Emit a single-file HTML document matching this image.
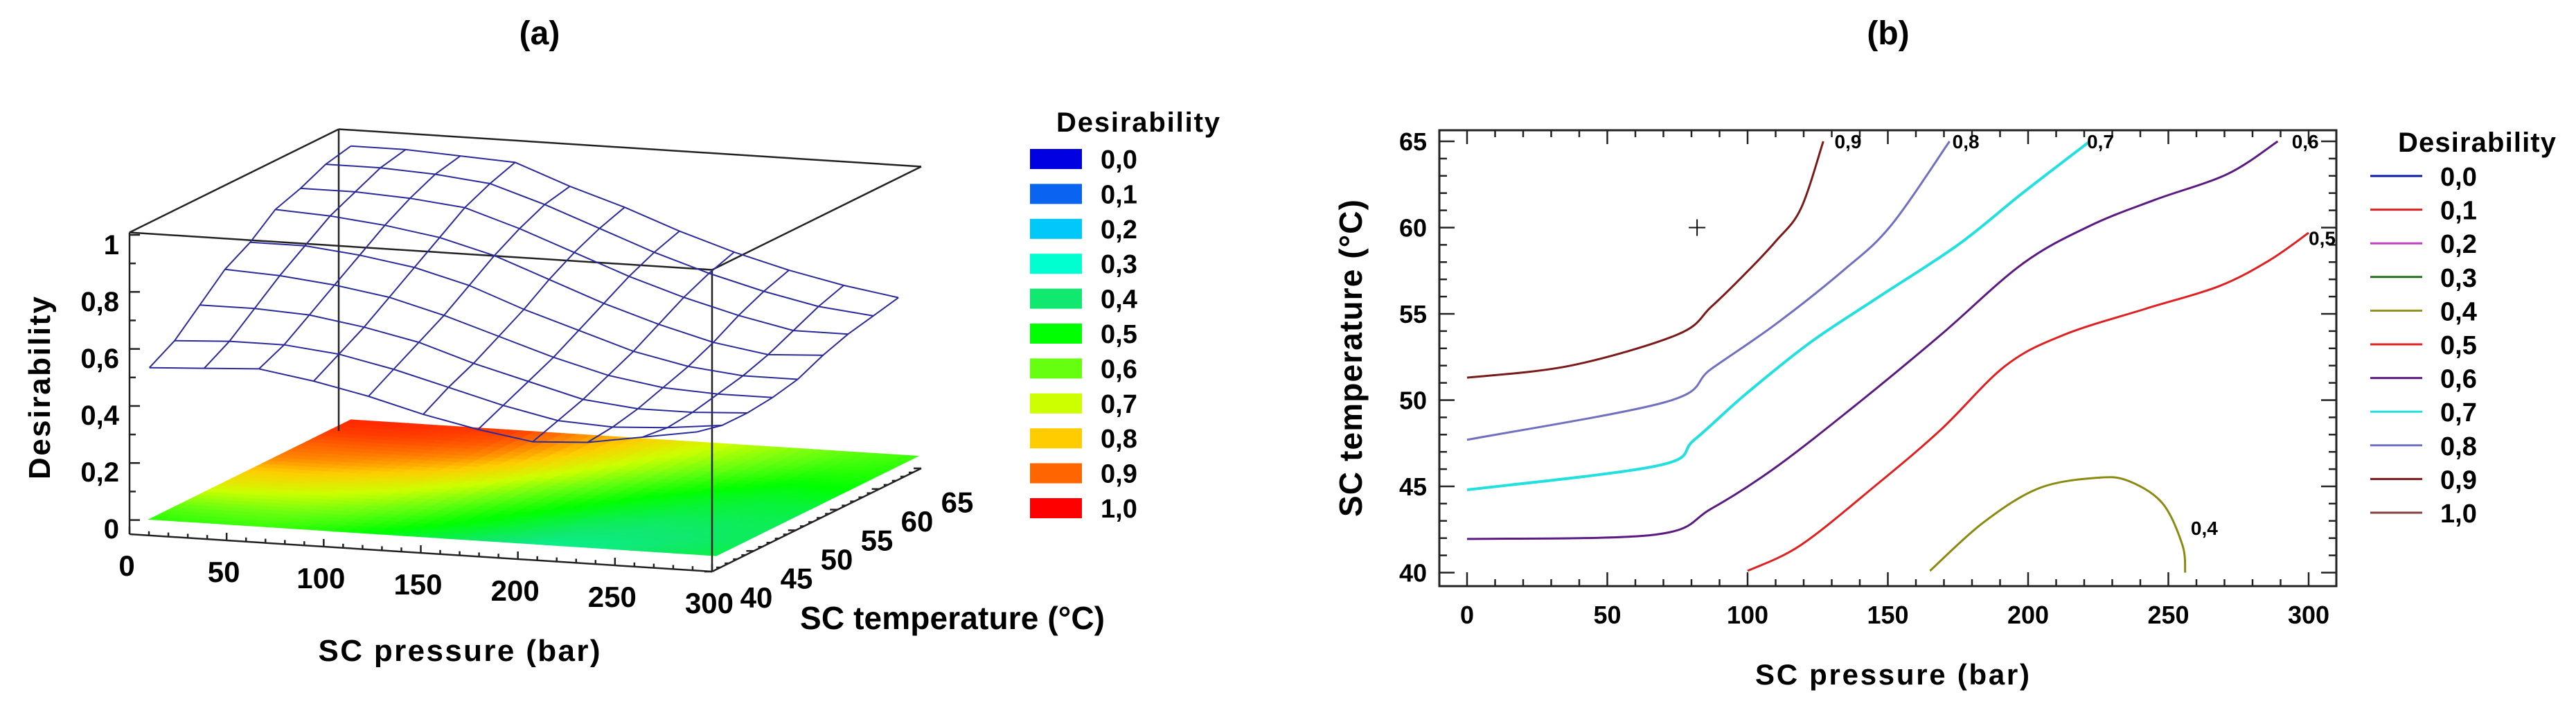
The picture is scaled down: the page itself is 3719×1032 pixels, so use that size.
<!DOCTYPE html>
<html><head><meta charset="utf-8"><style>
html,body{margin:0;padding:0;background:#fff;}
svg{display:block;font-family:"Liberation Sans",Arial,sans-serif;font-weight:bold;}
</style></head><body>
<svg id="fig" width="3719" height="1032" viewBox="0 0 3719 1032" xmlns="http://www.w3.org/2000/svg">
<rect width="3719" height="1032" fill="#fff"/>
<text x="779" y="64" font-size="48" text-anchor="middle">(a)</text>
<text x="2726" y="64" font-size="48" text-anchor="middle">(b)</text>
<g id="pa"></g>
<g id="pb"></g>
</svg>
<script>
// ---------- data ----------
const pressures = [0,30,60,90,120,150,180,210,240,270,300];
const temps = [40,43.125,46.25,49.375,52.5,55.625,58.75,61.875,65];
const desRow0 = [0.54,0.55,0.56,0.53,0.49,0.44,0.40,0.37,0.38,0.41,0.44];
const desRow1 = [0.59,0.60,0.60,0.58,0.54,0.49,0.44,0.40,0.39,0.40,0.42];
const desRow2 = [0.67,0.67,0.66,0.63,0.59,0.53,0.48,0.43,0.41,0.41,0.42];
const desRow3 = [0.75,0.74,0.72,0.69,0.64,0.58,0.52,0.47,0.44,0.43,0.43];
const desRow4 = [0.80,0.80,0.78,0.75,0.70,0.63,0.57,0.51,0.47,0.45,0.45];
const desRow5 = [0.87,0.86,0.84,0.81,0.76,0.69,0.62,0.56,0.51,0.48,0.49];
const desRow6 = [0.90,0.90,0.89,0.87,0.81,0.74,0.67,0.61,0.56,0.52,0.52];
const desRow7 = [0.94,0.94,0.93,0.91,0.85,0.78,0.71,0.65,0.60,0.56,0.54];
const desRow8 = [0.96,0.96,0.95,0.94,0.87,0.81,0.74,0.68,0.63,0.59,0.56];
const desGrid = [desRow0,desRow1,desRow2,desRow3,desRow4,desRow5,desRow6,desRow7,desRow8];
const zTicks = [0,0.2,0.4,0.6,0.8,1];
const zTickLabels = ["0","0,2","0,4","0,6","0,8","1"];
const pTicks = [0,50,100,150,200,250,300];
const tTicks = [40,45,50,55,60,65];
const legendLevels = ["0,0","0,1","0,2","0,3","0,4","0,5","0,6","0,7","0,8","0,9","1,0"];
const legendFillColors = ["#0000e0","#0a64f0","#00c8f8","#00ffd0","#10e870","#00ff00","#66ff10","#ccff00","#ffcc00","#ff6600","#ff0000"];
const legendLineColors = ["#0a1aa0","#e02020","#c040c0","#207020","#909020","#e02020","#5a1a80","#22e0e0","#7070c0","#7a1a1a","#804040"];
// contours (pressure, temperature)
const c09P=[0,37,75,87,99,110,119,127]; const c09T=[51.3,52.0,53.8,55.4,57.3,59.2,61.1,65];
const c08P=[0,71,87,110,134,151,172]; const c08T=[47.7,49.9,51.8,54.4,57.5,60.1,65];
const c07P=[0,68,81,99,122,146,175,198,222]; const c07T=[44.8,46.2,47.7,50.3,53.3,55.9,59.0,62.0,65];
const c06P=[0,67,87,110,140,169,198,222,245,271,289]; const c06T=[41.95,42.2,43.7,46.1,49.9,53.8,57.9,60.1,61.6,63.1,65];
const c05P=[100,119,146,169,192,213,242,268,286,300]; const c05T=[40.1,41.6,45.1,48.3,52.0,53.8,55.3,56.6,58.1,59.7];
const c04P=[165,184,204,225,236,248,255,256]; const c04T=[40.1,42.9,44.9,45.5,45.3,44.0,41.6,40];
const contourLevels=["0,9","0,8","0,7","0,6","0,5","0,4"];
const contourColors=["#7a1a1a","#7070c0","#22e0e0","#5a1a80","#e02020","#8a8a10"];
const contourLabelP=[131,173,221,294,300,258];
const contourLabelT=[65,65,65,65,59.4,42.6];
const markerP=[82]; const markerT=[60];

const NS="http://www.w3.org/2000/svg";
function mk(parent,tag,attrs,text){const e=document.createElementNS(NS,tag);for(const k in attrs)e.setAttribute(k,attrs[k]);if(text!==undefined)e.textContent=text;parent.appendChild(e);return e;}

// ---------- panel a ----------
const pa=document.getElementById('pa');
function boxPt(fx,fy,z){return [187+fx*841+fy*302, 771+fx*54-fy*149-z*420];}
function meshPt(p,T,z){const fx=0.027+0.94*p/300, fy=0.02+0.963*(T-40)/25;const b=boxPt(fx,fy,0);return [b[0],b[1]-12-z*420];}
function floorPt(p,T){const fx=0.027+0.973*p/300, fy=0.02+0.963*(T-40)/25;const b=boxPt(fx,fy,0);return [b[0],b[1]-20];}
function hex(c){return [parseInt(c.substr(1,2),16),parseInt(c.substr(3,2),16),parseInt(c.substr(5,2),16)];}
function cmap(v){v=Math.max(0,Math.min(1,v))*10;const i=Math.min(9,Math.floor(v)),f=v-i;const a=hex(legendFillColors[i]),b=hex(legendFillColors[i+1]);return 'rgb('+a.map((x,k)=>Math.round(x+(b[k]-x)*f)).join(',')+')';}
function bil(i,j,u,v){const g=desGrid;return g[j][i]*(1-u)*(1-v)+g[j][i+1]*u*(1-v)+g[j+1][i]*(1-u)*v+g[j+1][i+1]*u*v;}
// floor color map
const fl=mk(pa,'g',{});


const S=4;
for(let j=0;j<temps.length-1;j++)for(let i=0;i<pressures.length-1;i++)for(let a=0;a<S;a++)for(let b=0;b<S;b++){
 const p0=pressures[i]+(pressures[i+1]-pressures[i])*a/S,p1=pressures[i]+(pressures[i+1]-pressures[i])*(a+1)/S;
 const t0=temps[j]+(temps[j+1]-temps[j])*b/S,t1=temps[j]+(temps[j+1]-temps[j])*(b+1)/S;
 const c=cmap(bil(i,j,(a+0.5)/S,(b+0.5)/S));
 const pts=[floorPt(p0,t0),floorPt(p1,t0),floorPt(p1,t1),floorPt(p0,t1)].map(q=>q[0].toFixed(1)+','+q[1].toFixed(1)).join(' ');
 mk(fl,'polygon',{points:pts,fill:c,stroke:c,'stroke-width':1.2});
}
// box
const bx=mk(pa,'g',{stroke:'#222','stroke-width':2.5,fill:'none'});


const H=1.037;
function L(g,a,b){mk(g,'line',{x1:a[0],y1:a[1],x2:b[0],y2:b[1]});}
L(bx,boxPt(0,0,H),boxPt(1,0,H));L(bx,boxPt(0,0,H),boxPt(0,1,H));L(bx,boxPt(0,1,H),boxPt(1,1,H));L(bx,boxPt(1,0,H),boxPt(1,1,H));
L(bx,boxPt(0,0,0),boxPt(0,0,H));L(bx,boxPt(0,1,0),boxPt(0,1,H));L(bx,boxPt(1,0,0),boxPt(1,0,H));
L(bx,boxPt(0,0,0),boxPt(1,0,0));L(bx,boxPt(1,0,0),boxPt(1,1,0));
// small ticks
const tk=mk(pa,'g',{stroke:'#222','stroke-width':2.5});
for(let k=0;k<=10;k++){const z=k/10*0.98+0.02;const q=boxPt(0,0,z+0.0);mk(tk,'line',{x1:q[0],y1:q[1]-12,x2:q[0]+(k%2?9:15),y2:q[1]-12});}
for(let k=0;k<=30;k++){const q=boxPt(k/30,0,0);mk(tk,'line',{x1:q[0],y1:q[1],x2:q[0],y2:q[1]-(k%5?6:11)});}
for(let k=0;k<=25;k++){const q=boxPt(1,k/25,0);mk(tk,'line',{x1:q[0],y1:q[1],x2:q[0]-(k%5?6:11),y2:q[1]});}
// mesh
const me=mk(pa,'g',{stroke:'#2a2a9a','stroke-width':2,fill:'none'});


for(let j=0;j<temps.length;j++){const pts=pressures.map((p,i)=>meshPt(p,temps[j],desGrid[j][i]).map(v=>v.toFixed(1)).join(',')).join(' ');
 const e=mk(me,'polyline',{points:pts});
 
 }
for(let i=0;i<pressures.length;i++){const pts=temps.map((t,j)=>meshPt(pressures[i],t,desGrid[j][i]).map(v=>v.toFixed(1)).join(',')).join(' ');
 const e=mk(me,'polyline',{points:pts});
 
 }
// axis labels a
zTicks.forEach((z,k)=>{const q=boxPt(0,0,0);const e=mk(pa,'text',{x:172,y:q[1]-8-z*410+14,'font-size':40,'text-anchor':'end'},zTickLabels[k]);
 
 });
pTicks.forEach(p=>{const q=boxPt(p/300,0,0);const e=mk(pa,'text',{x:q[0]-4+p*0.0,y:q[1]+60,'font-size':42,'text-anchor':'middle'},String(p));
 
 });
tTicks.forEach(t=>{const f=(t-40)/25;const e=mk(pa,'text',{x:1092+f*5*58*1.0,y:877-f*5*27.5,'font-size':42,'text-anchor':'middle'},String(t));
 
 });
let e;
e=mk(pa,'text',{x:663,y:954,'font-size':44,'text-anchor':'middle',textLength:407},'SC pressure (bar)');

e=mk(pa,'text',{x:1155,y:908,'font-size':46,textLength:440},'SC temperature (°C)');

e=mk(pa,'text',{x:0,y:0,'font-size':44,'text-anchor':'middle',transform:'translate(72,560) rotate(-90)',textLength:264},'Desirability');

// legend a
const la=mk(pa,'g',{});


mk(la,'text',{x:1525,y:190,'font-size':40,textLength:236},'Desirability');
legendLevels.forEach((l,k)=>{const y=215+k*50.4;const r=mk(la,'rect',{x:1487,y:y,width:75,height:29,fill:legendFillColors[k]});
 
 
 mk(la,'text',{x:1589,y:y+28,'font-size':38},l);});

// ---------- panel b ----------
const pb=document.getElementById('pb');
function X(p){return 2118+4.05*p;}
function Y(t){return 204+(65-t)*24.9;}
mk(pb,'rect',{x:2078,y:188,width:1295,height:658,fill:'none',stroke:'#222','stroke-width':3});
const tb=mk(pb,'g',{stroke:'#222','stroke-width':2.5});
for(let p=0;p<=310;p+=10){const x=X(p);if(x>3372)break;const l=p%50===0?20:10;mk(tb,'line',{x1:x,y1:188,x2:x,y2:188+l});mk(tb,'line',{x1:x,y1:846,x2:x,y2:846-l});}
for(let t=40;t<=65;t++){const y=Y(t);const l=t%5===0?22:11;mk(tb,'line',{x1:2078,y1:y,x2:2078+l,y2:y});mk(tb,'line',{x1:3373,y1:y,x2:3373-l,y2:y});}
tTicks.forEach(t=>{const e=mk(pb,'text',{x:2060,y:Y(t)+13,'font-size':36,'text-anchor':'end'},String(t));
 });
pTicks.forEach(p=>{const e=mk(pb,'text',{x:X(p),y:900,'font-size':36,'text-anchor':'middle'},String(p));
 });
e=mk(pb,'text',{x:2732,y:988,'font-size':42,'text-anchor':'middle',textLength:396},'SC pressure (bar)');

e=mk(pb,'text',{x:0,y:0,'font-size':46,'text-anchor':'middle',transform:'translate(1966,517) rotate(-90)',textLength:458},'SC temperature (°C)');

function smooth(P){let d='M'+P[0][0].toFixed(1)+','+P[0][1].toFixed(1);for(let i=0;i<P.length-1;i++){const p0=P[i-1]||P[i],p1=P[i],p2=P[i+1],p3=P[i+2]||P[i+1];
 d+=' C'+(p1[0]+(p2[0]-p0[0])/6).toFixed(1)+','+(p1[1]+(p2[1]-p0[1])/6).toFixed(1)+' '+(p2[0]-(p3[0]-p1[0])/6).toFixed(1)+','+(p2[1]-(p3[1]-p1[1])/6).toFixed(1)+' '+p2[0].toFixed(1)+','+p2[1].toFixed(1);}return d;}
const cP=[c09P,c08P,c07P,c06P,c05P,c04P],cT=[c09T,c08T,c07T,c06T,c05T,c04T];
cP.forEach((ps,k)=>{const pts=ps.map((p,i)=>[X(p),Y(cT[k][i])]);
 const c=mk(pb,'path',{d:smooth(pts),fill:'none',stroke:contourColors[k],'stroke-width':k===2?4:3});
 
 
 const t=mk(pb,'text',{x:X(contourLabelP[k]),y:Y(contourLabelT[k])+10,'font-size':28},contourLevels[k]);
 
 });
markerP.forEach((p,i)=>{const x=X(p),y=Y(markerT[i]);const g=mk(pb,'g',{stroke:'#111','stroke-width':2});
 
 
 mk(g,'line',{x1:x-12,y1:y,x2:x+12,y2:y});mk(g,'line',{x1:x,y1:y-12,x2:x,y2:y+12});});
const lb=mk(pb,'g',{});


mk(lb,'text',{x:3462,y:219,'font-size':40,textLength:228},'Desirability');
legendLevels.forEach((l,k)=>{const y=254+k*48.6;const ln=mk(lb,'line',{x1:3422,y1:y,x2:3497,y2:y,stroke:legendLineColors[k],'stroke-width':3});
 
 
 mk(lb,'text',{x:3523,y:y+14,'font-size':38},l);});
</script>
</body></html>
